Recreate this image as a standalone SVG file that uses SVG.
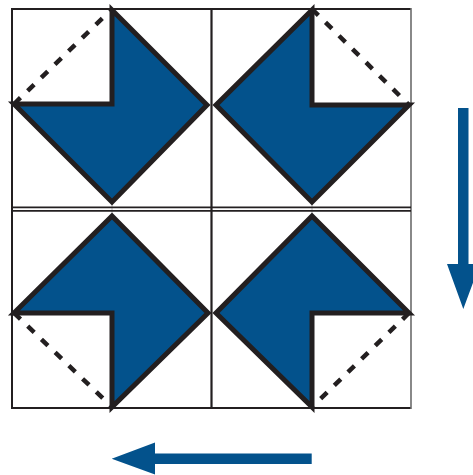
<svg xmlns="http://www.w3.org/2000/svg" width="473" height="475" viewBox="0 0 473 475">
<style>
.grid{fill:none;stroke:#231f20;stroke-width:2}
.faint{stroke:#b8b8b8;stroke-width:1}
.piece{fill:#03528c;stroke:#231f20;stroke-width:5;stroke-linejoin:miter}
.dash{fill:none;stroke:#231f20;stroke-width:4.5;stroke-dasharray:9 10}
.arrow{fill:#03528c}
</style>
<rect width="473" height="475" fill="#ffffff"/>
<g id="grid">
<line class="faint" x1="112" y1="205" x2="112" y2="213"/>
<line class="faint" x1="312" y1="205" x2="312" y2="213"/>
<path class="grid" d="M12,9 H411 M12,408 H411 M12,8 V409"/>
<line x1="411" y1="8" x2="411" y2="409" stroke="#6b6b6b" stroke-width="1.6"/>
<line x1="211.5" y1="8" x2="211.5" y2="409" stroke="#231f20" stroke-width="2.2"/>
<line x1="12" y1="207.3" x2="411" y2="207.3" stroke="#231f20" stroke-width="1.8"/>
<line x1="12" y1="210.8" x2="411" y2="210.8" stroke="#231f20" stroke-width="1.8"/>
</g>
<g id="block-tl">
<polygon class="piece" points="112,10 207,105 112,202 14,104 112,104"/>
<line class="dash" x1="14" y1="104" x2="112" y2="9"/>
</g>
<g id="block-tr">
<polygon class="piece" points="312,10 312,105 409,105 312,202 216,105"/>
<line class="dash" x1="312" y1="9" x2="409" y2="105"/>
</g>
<g id="block-bl">
<polygon class="piece" points="112,216 208,313 112,407 112,313 14,313"/>
<line class="dash" x1="14" y1="313" x2="112" y2="407"/>
</g>
<g id="block-br">
<polygon class="piece" points="312,216 409,313 312,313 312,407 216,313"/>
<line class="dash" x1="409" y1="313" x2="312" y2="407"/>
</g>
<g id="arrows">
<polygon class="arrow" points="458,108 468.5,108 468.5,264 480,264 463.3,309 447,264 458,264"/>
<polygon class="arrow" points="311.7,453.5 311.7,464 155,464 155,474.5 111.7,458.7 155,442.5 155,453.5"/>
</g>
</svg>
